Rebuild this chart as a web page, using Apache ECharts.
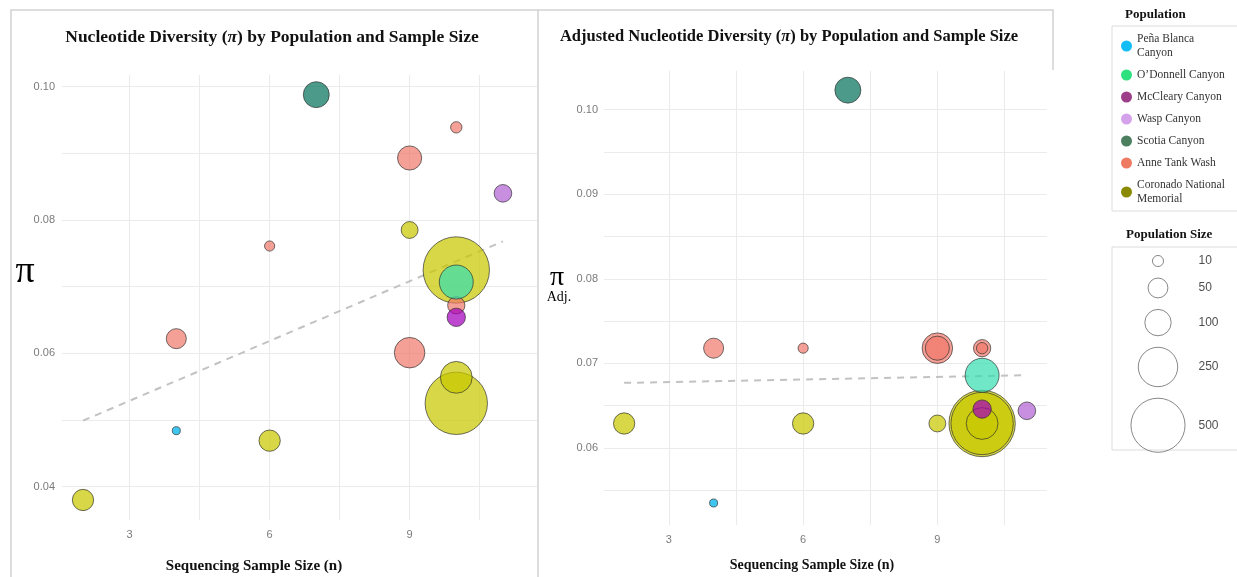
<!DOCTYPE html>
<html><head><meta charset="utf-8">
<script src="https://cdn.jsdelivr.net/npm/echarts@6/dist/echarts.min.js"></script>
<style>html,body{margin:0;padding:0;background:#fff;}#c{width:1237px;height:577px;}</style>
</head><body><div id="c"></div>
<script>
// ---------- DATA ----------
const populations = ['Peña Blanca Canyon', 'O\u2019Donnell Canyon', 'McCleary Canyon', 'Wasp Canyon', 'Scotia Canyon', 'Anne Tank Wash', 'Coronado National Memorial'];
const samplePop = ['Coronado National Memorial', 'Peña Blanca Canyon', 'Anne Tank Wash', 'Coronado National Memorial', 'Anne Tank Wash', 'Scotia Canyon', 'Anne Tank Wash', 'Coronado National Memorial', 'Anne Tank Wash', 'Anne Tank Wash', 'Wasp Canyon', 'Coronado National Memorial', 'O\u2019Donnell Canyon', 'Anne Tank Wash', 'McCleary Canyon', 'Coronado National Memorial', 'Coronado National Memorial'];
const sampleN  = [2, 4, 4, 6, 6, 7, 9, 9, 9, 10, 11, 10, 10, 10, 10, 10, 10];
const piRaw    = [0.0380, 0.0484, 0.0622, 0.0469, 0.0761, 0.0988, 0.0893, 0.0785, 0.0601, 0.0939, 0.0840, 0.0725, 0.0707, 0.0672, 0.0654, 0.0564, 0.0525];
const piAdj    = [0.0629, 0.0535, 0.0718, 0.0629, 0.0718, 0.1023, 0.0718, 0.0629, 0.0718, 0.0718, 0.0644, 0.0629, 0.0686, 0.0718, 0.0646, 0.0629, 0.0629];
const popSize  = [35, 5, 31, 35, 8, 52, 45, 22, 72, 10, 24, 340, 89, 23, 26, 78, 300];
const trendX    = [2, 11];
const trendRaw  = [0.0499, 0.0768];
const trendAdj  = [0.0677, 0.0686];
const sizeLegendValues = [10, 50, 100, 250, 500];

// ---------- STYLES ----------
const fillColors = {
  'Peña Blanca Canyon': 'rgba(0,177,233,0.75)',
  'O\u2019Donnell Canyon': 'rgba(51,222,176,0.7)',
  'McCleary Canyon': 'rgba(165,0,188,0.72)',
  'Wasp Canyon': 'rgba(177,96,211,0.7)',
  'Scotia Canyon': 'rgba(0,112,88,0.7)',
  'Anne Tank Wash': 'rgba(239,119,105,0.7)',
  'Coronado National Memorial': 'rgba(199,199,0,0.72)'
};
const legendColors = {
  'Peña Blanca Canyon': '#12bdf5',
  'O\u2019Donnell Canyon': '#2fe07e',
  'McCleary Canyon': '#9c3f88',
  'Wasp Canyon': '#d4a2ea',
  'Scotia Canyon': '#4b7f60',
  'Anne Tank Wash': '#ee7a62',
  'Coronado National Memorial': '#8a8a00'
};
const drawOrder = ['Coronado National Memorial', 'TREND', 'Anne Tank Wash', 'O\u2019Donnell Canyon', 'McCleary Canyon', 'Wasp Canyon', 'Scotia Canyon', 'Peña Blanca Canyon'];
const SERIF = 'Liberation Serif';
const SANS = 'Liberation Sans';

const bubbleDiameter = n => 2 * 1.8 * Math.sqrt(n);
const legendRadius = n => 2 + 1.12 * Math.sqrt(n);
const isMult = (v, step) => Math.abs(v / step - Math.round(v / step)) < 1e-6;

function panelSeries(yVals, trendVals, axisIdx) {
  const out = [];
  drawOrder.forEach(name => {
    if (name === 'TREND') {
      out.push({
        type: 'line', xAxisIndex: axisIdx, yAxisIndex: axisIdx, z: 2,
        data: trendX.map((x, i) => [x, trendVals[i]]),
        symbol: 'none', silent: true,
        lineStyle: { color: '#c2c2c2', width: 2, type: [7, 6] }
      });
      return;
    }
    const pts = [];
    samplePop.forEach((p, i) => { if (p === name) pts.push([sampleN[i], yVals[i], popSize[i]]); });
    pts.sort((a, b) => b[2] - a[2]);
    out.push({
      name: name, type: 'scatter', xAxisIndex: axisIdx, yAxisIndex: axisIdx, z: 2,
      data: pts,
      symbolSize: v => bubbleDiameter(v[2]),
      itemStyle: { color: fillColors[name], borderColor: 'rgba(45,45,45,0.75)', borderWidth: 0.9, opacity: 1 },
      emphasis: { disabled: true }
    });
  });
  return out;
}

// size legend vertical layout (stacked circles)
const legendCenters = [];
(function () {
  let c = 14;
  sizeLegendValues.forEach((v, i) => {
    if (i > 0) c += legendRadius(sizeLegendValues[i - 1]) + 11.5 + legendRadius(v);
    legendCenters.push(c);
  });
})();

const tickLabel = { color: '#7b7b7b', fontFamily: SANS, fontSize: 11 };
const gridLine = { show: true, showMinLine: false, showMaxLine: false, lineStyle: { color: '#ebebeb', width: 1.1 } };

function xAxisCfg(idx, max) {
  return {
    type: 'value', gridIndex: idx, min: 1.55, max: max, minInterval: 1.5, maxInterval: 1.5,
    axisLine: { show: false }, axisTick: { show: false },
    axisLabel: Object.assign({ margin: 9, formatter: v => isMult(v, 3) ? String(Math.round(v)) : '' }, tickLabel),
    splitLine: gridLine
  };
}
function yAxisCfg(idx, min, max, step, labelStep, margin) {
  return {
    type: 'value', gridIndex: idx, min: min, max: max, minInterval: step, maxInterval: step,
    axisLine: { show: false }, axisTick: { show: false },
    axisLabel: Object.assign({ margin: margin, formatter: v => isMult(v, labelStep) ? v.toFixed(2) : '' }, tickLabel),
    splitLine: gridLine
  };
}

const titleRich = (txt1, txt2, size) => ({
  text: '{b|' + txt1 + '}{i|π}{b|' + txt2 + '}',
  rich: {
    b: { fontFamily: SERIF, fontWeight: 'bold', fontSize: size, fill: '#111' },
    i: { fontFamily: SERIF, fontWeight: 'bold', fontStyle: 'italic', fontSize: size, fill: '#111' }
  },
  align: 'center', verticalAlign: 'middle'
});

const chart = echarts.init(document.getElementById('c'), null, { renderer: 'canvas' });
const option = {
  animation: false,
  backgroundColor: '#ffffff',
  grid: [
    { left: 62, top: 75, width: 475, height: 445 },
    { left: 604, top: 70.7, width: 443, height: 454.3 },
    { left: 1120, top: 247, width: 100, height: 203 }
  ],
  xAxis: [
    xAxisCfg(0, 11.73),
    xAxisCfg(1, 11.45),
    { type: 'value', gridIndex: 2, min: 0, max: 100, show: false }
  ],
  yAxis: [
    yAxisCfg(0, 0.035, 0.10175, 0.01, 0.02, 7),
    yAxisCfg(1, 0.0509, 0.1046, 0.005, 0.01, 6),
    { type: 'value', gridIndex: 2, min: 0, max: 203, inverse: true, show: false }
  ],
  legend: {
    data: populations.map(n => ({ name: n, itemStyle: { color: legendColors[n], opacity: 1, borderWidth: 0 } })),
    orient: 'vertical', left: 1121, top: 32, padding: 0,
    icon: 'circle', itemWidth: 11, itemHeight: 11, itemGap: 8,
    textStyle: { fontFamily: SERIF, fontSize: 11.5, color: '#333', lineHeight: 14 },
    formatter: n => n === 'Peña Blanca Canyon' ? 'Peña Blanca\nCanyon' : (n === 'Coronado National Memorial' ? 'Coronado National\nMemorial' : n)
  },
  series: [].concat(
    panelSeries(piRaw, trendRaw, 0),
    panelSeries(piAdj, trendAdj, 1),
    [{
      type: 'scatter', xAxisIndex: 2, yAxisIndex: 2, silent: true,
      data: sizeLegendValues.map((v, i) => [38, legendCenters[i], v]),
      symbolSize: v => 2 * legendRadius(v[2]),
      itemStyle: { color: 'rgba(0,0,0,0)', borderColor: '#6a6a6a', borderWidth: 1 }
    }, {
      type: 'scatter', xAxisIndex: 2, yAxisIndex: 2, silent: true,
      data: sizeLegendValues.map((v, i) => [78, legendCenters[i], v]),
      symbolSize: 1, itemStyle: { color: 'rgba(0,0,0,0)' },
      label: { show: true, position: 'right', distance: 0, formatter: p => String(p.value[2]), fontFamily: SANS, fontSize: 12, color: '#222' }
    }]
  ),
  graphic: [
    { type: 'polyline', silent: true, shape: { points: [[11, 580], [11, 10], [538, 10], [538, 580]] }, style: { stroke: '#d2d2d2', lineWidth: 1.5, fill: null } },
    { type: 'polyline', silent: true, shape: { points: [[538, 10], [1053, 10], [1053, 70]] }, style: { stroke: '#d2d2d2', lineWidth: 1.5, fill: null } },
    { type: 'rect', silent: true, shape: { x: 1112, y: 26, width: 140, height: 185 }, style: { stroke: '#dcdcdc', lineWidth: 1, fill: null } },
    { type: 'rect', silent: true, shape: { x: 1112, y: 247, width: 140, height: 203 }, style: { stroke: '#dcdcdc', lineWidth: 1, fill: null } },
    { type: 'text', silent: true, x: 272, y: 37, style: titleRich('Nucleotide Diversity (', ') by Population and Sample Size', 17.5) },
    { type: 'text', silent: true, x: 789, y: 37, style: titleRich('Adjusted Nucleotide Diversity (', ') by Population and Sample Size', 16.5) },
    { type: 'text', silent: true, x: 254, y: 566, style: { text: 'Sequencing Sample Size (n)', fontFamily: SERIF, fontWeight: 'bold', fontSize: 15, fill: '#111', align: 'center', verticalAlign: 'middle' } },
    { type: 'text', silent: true, x: 812, y: 565, style: { text: 'Sequencing Sample Size (n)', fontFamily: SERIF, fontWeight: 'bold', fontSize: 14, fill: '#111', align: 'center', verticalAlign: 'middle' } },
    { type: 'text', silent: true, x: 25, y: 272, style: { text: 'π', fontFamily: SERIF, fontSize: 38, fill: '#000', align: 'center', verticalAlign: 'middle' } },
    { type: 'text', silent: true, x: 557, y: 278, style: { text: 'π', fontFamily: SERIF, fontSize: 28, fill: '#000', align: 'center', verticalAlign: 'middle' } },
    { type: 'text', silent: true, x: 559, y: 297, style: { text: 'Adj.', fontFamily: SERIF, fontSize: 14, fill: '#000', align: 'center', verticalAlign: 'middle' } },
    { type: 'text', silent: true, x: 1125, y: 15, style: { text: 'Population', fontFamily: SERIF, fontWeight: 'bold', fontSize: 13, fill: '#111', align: 'left', verticalAlign: 'middle' } },
    { type: 'text', silent: true, x: 1126, y: 235, style: { text: 'Population Size', fontFamily: SERIF, fontWeight: 'bold', fontSize: 13, fill: '#111', align: 'left', verticalAlign: 'middle' } }
  ]
};
chart.setOption(option);
</script>
</body></html>
